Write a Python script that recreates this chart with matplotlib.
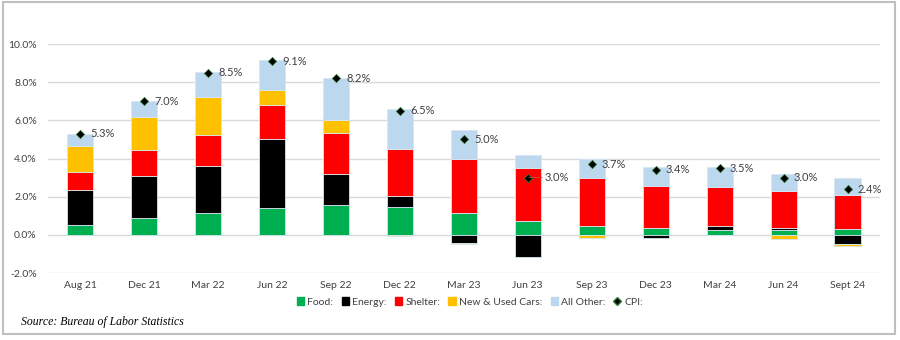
import numpy as np
import matplotlib
matplotlib.use("Agg")
import matplotlib.pyplot as plt
from matplotlib.patches import Rectangle
from matplotlib.lines import Line2D

plt.rcParams["font.family"] = ["Lato", "DejaVu Sans"]

# --- data (percentage points) ---
periods = ["Aug 21", "Dec 21", "Mar 22", "Jun 22", "Sep 22", "Dec 22", "Mar 23",
           "Jun 23", "Sep 23", "Dec 23", "Mar 24", "Jun 24", "Sept 24"]
food    = [0.53, 0.88, 1.17, 1.40, 1.54, 1.44, 1.14, 0.75, 0.49, 0.38, 0.28, 0.28, 0.30]
energy  = [1.80, 2.22, 2.43, 3.60, 1.65, 0.58, -0.42, -1.17, 0.00, -0.14, 0.17, 0.07, -0.47]
shelter = [0.95, 1.34, 1.65, 1.83, 2.14, 2.48, 2.86, 2.76, 2.50, 2.17, 2.05, 1.93, 1.80]
cars    = [1.37, 1.73, 1.98, 0.75, 0.69, -0.08, -0.07, 0.00, -0.15, 0.00, -0.03, -0.22, -0.11]
other   = [0.65, 0.83, 1.31, 1.58, 2.19, 2.11, 1.49, 0.65, 0.98, 0.98, 1.03, 0.92, 0.90]
cpi     = [5.3, 7.0, 8.5, 9.1, 8.2, 6.5, 5.0, 3.0, 3.7, 3.4, 3.5, 3.0, 2.4]

series = [("Food:", food, "#00B050"),
          ("Energy:", energy, "#000000"),
          ("Shelter:", shelter, "#FF0000"),
          ("New & Used Cars:", cars, "#FFC000"),
          ("All Other:", other, "#BDD7EE")]

fig = plt.figure(figsize=(9, 3.4), dpi=100)
ax = fig.add_axes([0.0533, 0.197, 0.924, 0.6735])

x = np.arange(len(periods))
pos_base = np.zeros(len(periods))
neg_base = np.zeros(len(periods))
for name, vals, col in series:
    v = np.array(vals, dtype=float)
    bottom = np.where(v >= 0, pos_base, neg_base)
    ax.bar(x, v, 0.41, bottom=bottom, color=col, edgecolor="#D6E6F2",
           linewidth=0.6, zorder=2)
    pos_base += np.where(v >= 0, v, 0)
    neg_base += np.where(v < 0, v, 0)

ax.scatter(x, cpi, marker="D", s=18, color="black", edgecolor="#2E7D32",
           linewidth=0.5, zorder=4)
for xi, c in zip(x, cpi):
    if periods[xi] == "Jun 23":
        ax.annotate(f"{c:.1f}%", xy=(xi, c), xytext=(xi + 0.27, c),
                    va="center", ha="left", fontsize=8, color="#404040",
                    arrowprops=dict(arrowstyle="-", color="#C0504D", lw=0.6,
                                    shrinkA=0, shrinkB=1), zorder=5)
    else:
        ax.text(xi + 0.16, c, f"{c:.1f}%", va="center", ha="left",
                fontsize=8, color="#404040", zorder=5)

ax.set_xlim(-0.5, len(periods) - 0.5)
ax.set_ylim(-2, 10)
ax.set_yticks(np.arange(-2, 10.1, 2))
ax.set_yticklabels([f"{t:.1f}%" for t in np.arange(-2, 10.1, 2)])
ax.set_xticks(x)
ax.set_xticklabels(periods)
ax.tick_params(axis="both", length=0, labelsize=7.5, colors="#404040")
ax.tick_params(axis="x", pad=6)
ax.tick_params(axis="y", pad=8)
ax.grid(axis="y", color="#D9D9D9", lw=1, zorder=0)
ax.set_axisbelow(True)
for s in ax.spines.values():
    s.set_visible(False)

handles = [Rectangle((0, 0), 1, 1, color=col) for _, _, col in series]
handles.append(Line2D([], [], marker="D", color="black", ls="none",
                      markersize=4, markeredgecolor="#2E7D32"))
labels = [name for name, _, _ in series] + ["CPI:"]
fig.legend(handles, labels, loc="center", bbox_to_anchor=(0.522, 0.112),
           ncol=6, frameon=False, fontsize=7.5, handlelength=0.7,
           handleheight=0.7, handletextpad=0.3, columnspacing=0.8,
           labelcolor="#404040")

fig.text(0.023, 0.054, "Source: Bureau of Labor Statistics",
         family="Liberation Serif", style="italic", fontsize=8.5,
         va="center", ha="left", color="black")

fig.add_artist(Rectangle((0.003, 0.018), 0.991, 0.975, transform=fig.transFigure,
                         fill=False, edgecolor="#BFBFBF", lw=1.5))

fig.savefig("out.png", dpi=100)
